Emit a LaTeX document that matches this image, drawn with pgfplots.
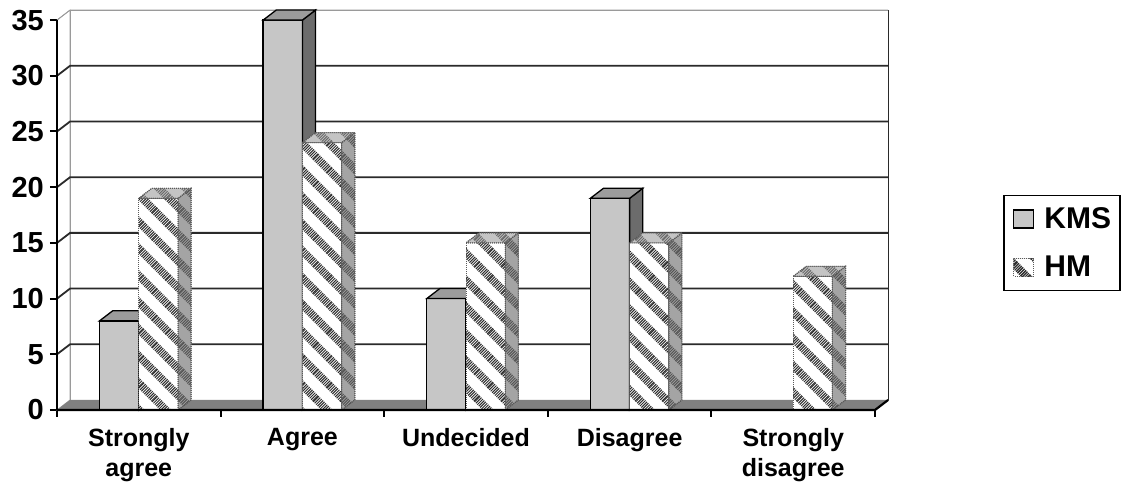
\documentclass[border=0pt]{standalone}
\usepackage{fontspec}
\setmainfont{Liberation Sans}
\usepackage{pgfplots}
\pgfplotsset{compat=1.18}
\usepackage{pgfplotstable}
\usetikzlibrary{patterns.meta}

\definecolor{kmsfront}{HTML}{C6C6C6}
\definecolor{kmsside}{HTML}{6C6C6C}
\definecolor{kmstop}{HTML}{9C9C9C}
\definecolor{hmstripe}{HTML}{2E2E2E}
\definecolor{hmedge}{HTML}{5A5A5A}
\definecolor{hmsidefill}{HTML}{A4A4A4}
\definecolor{hmsidestripe}{HTML}{555555}
\definecolor{hmtopfill}{HTML}{C4C4C4}
\definecolor{hmtopstripe}{HTML}{6A6A6A}
\definecolor{floorgray}{HTML}{808080}
\definecolor{gridgray}{HTML}{2A2A2A}
\definecolor{wallgray}{HTML}{9A9A9A}

% responses per category
\pgfplotstableread{
idx kms hm
0 8 19
1 35 24
2 10 15
3 19 15
4 0 12
}\responses

% depth of the box and of the bars, in axis units
\newcommand\depthx{0.08}
\newcommand\depthy{0.9}

% hatching used by the HM series
\tikzset{hatch/.style={pattern={Lines[angle=-45,distance=19pt,line width=8pt]}}}

\pgfplotsset{
  kms front/.style={fill=kmsfront, draw=black, line width=1.3pt},
  kms side/.style={fill=kmsside, draw=black, line width=1.3pt},
  kms top/.style={fill=kmstop, draw=black, line width=1.3pt},
  hm front/.style={fill=white, draw=hmedge, line width=1pt, densely dotted,
    postaction={hatch, pattern color=hmstripe}},
  hm side/.style={fill=hmsidefill, draw=hmedge, line width=1pt, densely dotted,
    postaction={hatch, pattern color=hmsidestripe}},
  hm top/.style={fill=hmtopfill, draw=hmedge, line width=1pt, densely dotted,
    postaction={hatch, pattern color=hmtopstripe}},
}

% side and top faces of a bar running from #1 to #2 with height #3
\newcommand\cubefaces[5]{%
  \pgfmathsetmacro\xa{#1}%
  \pgfmathsetmacro\xb{#2}%
  \pgfmathsetmacro\xc{#2+\depthx}%
  \pgfmathsetmacro\xd{#1+\depthx}%
  \pgfmathsetmacro\yv{#3}%
  \pgfmathsetmacro\yt{#3+\depthy}%
  \edef\cubenext{%
    \noexpand\addplot[#4, forget plot] coordinates {(\xb,0) (\xb,\yv) (\xc,\yt) (\xc,\depthy)} -- cycle;
    \noexpand\addplot[#5, forget plot] coordinates {(\xa,\yv) (\xb,\yv) (\xc,\yt) (\xd,\yt)} -- cycle;
  }\cubenext
}

% horizontal grid line on the side and back walls
\newcommand\wallline[2]{%
  \pgfmathsetmacro\ga{#1+\depthy}%
  \pgfmathsetmacro\gx{-0.5+\depthx}%
  \pgfmathsetmacro\gy{4.5+\depthx}%
  \edef\gridnext{%
    \noexpand\addplot[#2, forget plot] coordinates {(-0.5,#1) (\gx,\ga) (\gy,\ga)};
  }\gridnext
}

\begin{document}
\begin{tikzpicture}
\begin{axis}[
  at={(57pt,76pt)}, anchor=south west,
  x=163.6pt, y=11.14pt,
  xmin=-0.5, xmax=4.58, ymin=0, ymax=35.9,
  clip=false,
  axis line style={draw=none},
  no markers,
  ytick={0,5,...,35},
  ytick pos=left, ytick align=outside,
  xtick={-0.5,0.5,...,4.5}, xticklabels={},
  xtick pos=bottom, xtick align=outside,
  major tick length=7pt,
  tick style={black, line width=2pt},
  /pgf/number format/assume math mode=true,
  yticklabel style={font=\fontsize{29}{30}\selectfont\bfseries, inner sep=0pt, xshift=-6pt},
  extra x ticks={0,1,2,3,4},
  extra x tick labels={{Strongly\\agree}, Agree, Undecided, Disagree, {Strongly\\disagree}},
  extra x tick style={major tick length=0pt,
    xticklabel style={font=\fontsize{25}{30}\selectfont\bfseries, align=center, inner sep=0pt, yshift=-18pt}},
  legend style={at={(1.2093,0.4176)}, anchor=center, draw=black, line width=1.2pt,
    font=\fontsize{30}{30}\selectfont\bfseries,
    inner xsep=9pt, inner ysep=12pt, row sep=26pt,
    nodes={inner sep=0pt},
    /tikz/every odd column/.append style={column sep=10pt}},
  legend cell align=left,
]

% walls and floor
\addplot[fill=white, draw=wallgray, line width=0.8pt, forget plot]
  coordinates {(-0.5,0) (-0.42,0.9) (-0.42,35.9) (-0.5,35)} -- cycle;
\addplot[fill=white, draw=wallgray, line width=0.8pt, forget plot]
  coordinates {(-0.42,0.9) (-0.42,35.9) (4.58,35.9) (4.58,0.9)} -- cycle;
\addplot[draw=gridgray, line width=1.2pt, forget plot] coordinates {(4.58,0.9) (4.58,35.9)};
\pgfplotsinvokeforeach{5,10,...,30}{\wallline{#1}{draw=gridgray, line width=1.8pt}}
\wallline{35}{draw=wallgray, line width=0.8pt}
\addplot[fill=floorgray, draw=none, forget plot]
  coordinates {(-0.5,0) (4.5,0) (4.58,0.9) (-0.42,0.9)} -- cycle;

% KMS bars
\addplot[ybar, bar width=0.24, bar shift=-0.12, kms front,
  legend image code/.code={\draw[fill=kmsfront, draw=black, line width=1.3pt, solid] (0pt,-9pt) rectangle (20pt,9pt);}]
  table[x=idx, y=kms] {\responses};
\addlegendentry{KMS}
\pgfplotsinvokeforeach{0,...,4}{
  \pgfplotstablegetelem{#1}{kms}\of\responses
  \pgfmathsetmacro\val{\pgfplotsretval}
  \ifdim\val pt>0pt
    \cubefaces{#1-0.24}{#1}{\val}{kms side}{kms top}
  \fi
}

% HM bars
\addplot[ybar, bar width=0.24, bar shift=0.12, hm front,
  legend image code/.code={\draw[fill=white, draw=hmedge, line width=1pt, densely dotted,
    postaction={hatch, pattern color=hmstripe}] (0pt,-9pt) rectangle (20pt,9pt);}]
  table[x=idx, y=hm] {\responses};
\addlegendentry{HM}
\pgfplotsinvokeforeach{0,...,4}{
  \pgfplotstablegetelem{#1}{hm}\of\responses
  \pgfmathsetmacro\val{\pgfplotsretval}
  \ifdim\val pt>0pt
    \cubefaces{#1}{#1+0.24}{\val}{hm side}{hm top}
  \fi
}

% front axis lines
\addplot[black, line width=2.2pt, forget plot] coordinates {(-0.5,0) (-0.5,35)};
\addplot[black, line width=2.2pt, forget plot] coordinates {(-0.5,0) (4.5,0) (4.58,0.9)};
\end{axis}
\pgfresetboundingbox
\path[use as bounding box] (0,0) rectangle (1129pt,486pt);
\end{tikzpicture}
\end{document}
